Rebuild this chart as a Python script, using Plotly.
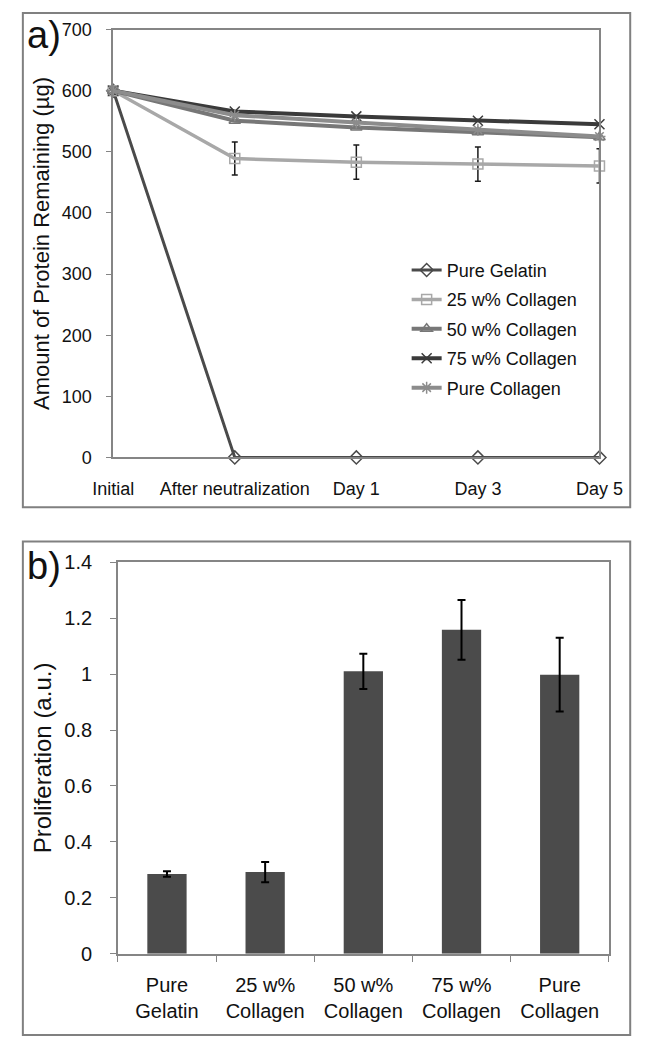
import plotly.graph_objects as go

# ---------- Data: panel a ----------
time_labels = ["Initial", "After neutralization", "Day 1", "Day 3", "Day 5"]
series_names = ["Pure Gelatin", "25 w% Collagen", "50 w% Collagen", "75 w% Collagen", "Pure Collagen"]
pure_gelatin = [600, 0, 0, 0, 0]
collagen_25 = [600, 489, 483, 480, 477]
collagen_25_err = [0, 27, 28, 28, 28]
collagen_50 = [600, 551, 540, 532, 524]
collagen_75 = [600, 566, 558, 551, 545]
pure_collagen = [600, 560, 548, 536, 525]

# ---------- Data: panel b ----------
groups = ["Pure<br>Gelatin", "25 w%<br>Collagen", "50 w%<br>Collagen", "75 w%<br>Collagen", "Pure<br>Collagen"]
proliferation = [0.285, 0.292, 1.01, 1.158, 0.998]
proliferation_err = [0.010, 0.036, 0.063, 0.107, 0.132]
y2_ticks = [0, 0.2, 0.4, 0.6, 0.8, 1.0, 1.2, 1.4]
y2_ticktext = ["0", "0.2", "0.4", "0.6", "0.8", "1", "1.2", "1.4"]

W, H = 657, 1048
FONT = "Liberation Sans, Arial, sans-serif"

def px_x(v):
    return v / W

def px_y(v):
    return 1 - v / H

fig = go.Figure()

xpos = list(range(len(time_labels)))
styles = [
    (pure_gelatin, "#4a4a4a", "diamond-open", 3, None),
    (collagen_25, "#a8a8a8", "square-open", 3.5, collagen_25_err),
    (collagen_50, "#777777", "triangle-up-open", 4, None),
    (collagen_75, "#3a3a3a", "x-thin-open", 4, None),
    (pure_collagen, "#8c8c8c", "asterisk-open", 4, None),
]
for name, (vals, col, sym, lw, err) in zip(series_names, styles):
    kw = {}
    if err is not None:
        kw["error_y"] = dict(type="data", array=err, visible=True, color="#1a1a1a",
                             thickness=1.5, width=3)
    fig.add_trace(go.Scatter(
        x=xpos, y=vals, name=name, legendgroup=name, mode="lines+markers",
        line=dict(color=col, width=lw),
        marker=dict(symbol=sym, size=10, color=col, line=dict(color=col, width=1.5)),
        cliponaxis=False, xaxis="x", yaxis="y", **kw))

fig.add_trace(go.Bar(
    x=groups, y=proliferation, marker=dict(color="#4b4b4b", line=dict(width=0)),
    error_y=dict(type="data", array=proliferation_err, visible=True, color="#000000",
                 thickness=2, width=4),
    showlegend=False, xaxis="x2", yaxis="y2"))

axis_common = dict(showline=True, mirror=True, linecolor="#858585", linewidth=1.5,
                   showgrid=False, zeroline=False)

def tf(size):
    return dict(family=FONT, size=size, color="#111")

fig.update_layout(
    width=W, height=H,
    margin=dict(l=0, r=0, t=0, b=0),
    paper_bgcolor="white", plot_bgcolor="white",
    font=dict(family=FONT, color="#111"),
    bargap=0.6,
    hovermode=False,
    xaxis=dict(domain=[px_x(99), px_x(621)], anchor="y", range=[0, 4],
               tickvals=xpos, ticktext=time_labels, ticks="",
               ticklabelstandoff=14, tickfont=tf(18), **axis_common),
    yaxis=dict(domain=[px_y(456), px_y(19)], anchor="x", range=[0, 700],
               tickvals=list(range(0, 701, 100)), ticks="outside", ticklen=5,
               tickcolor="#858585", ticklabelstandoff=11, tickfont=tf(18),
               title=dict(text="Amount of Protein Remaining (µg)", font=tf(22), standoff=6),
               **axis_common),
    xaxis2=dict(domain=[px_x(104), px_x(631)], anchor="y2",
                ticks="outside", ticklen=6, tickcolor="#858585", tickson="boundaries",
                ticklabelstandoff=12, tickfont=tf(20), **axis_common),
    yaxis2=dict(domain=[px_y(963), px_y(563)], anchor="x2", range=[0, 1.4],
                tickvals=y2_ticks, ticktext=y2_ticktext, ticks="outside", ticklen=6,
                tickcolor="#858585", ticklabelstandoff=14, tickfont=tf(20),
                title=dict(text="Proliferation (a.u.)", font=tf(24), standoff=6),
                **axis_common),
    legend=dict(x=px_x(414), y=px_y(246), xanchor="left", yanchor="top",
                bgcolor="rgba(0,0,0,0)", font=tf(18),
                itemwidth=30, tracegroupgap=3),
    shapes=[
        dict(type="rect", xref="paper", yref="paper", x0=px_x(2), x1=px_x(654),
             y0=px_y(507), y1=px_y(2), line=dict(color="#808080", width=2)),
        dict(type="rect", xref="paper", yref="paper", x0=px_x(2), x1=px_x(654),
             y0=px_y(1046), y1=px_y(542), line=dict(color="#808080", width=2)),
    ],
    annotations=[
        dict(text="a)", xref="paper", yref="paper", x=px_x(4), y=px_y(1),
             xanchor="left", yanchor="top", showarrow=False, font=tf(38)),
        dict(text="b)", xref="paper", yref="paper", x=px_x(4), y=px_y(543),
             xanchor="left", yanchor="top", showarrow=False, font=tf(38)),
    ],
)

fig.write_html("out.html", config={"displayModeBar": False},
               post_script="document.body.style.margin='0';document.body.style.overflow='hidden';")
